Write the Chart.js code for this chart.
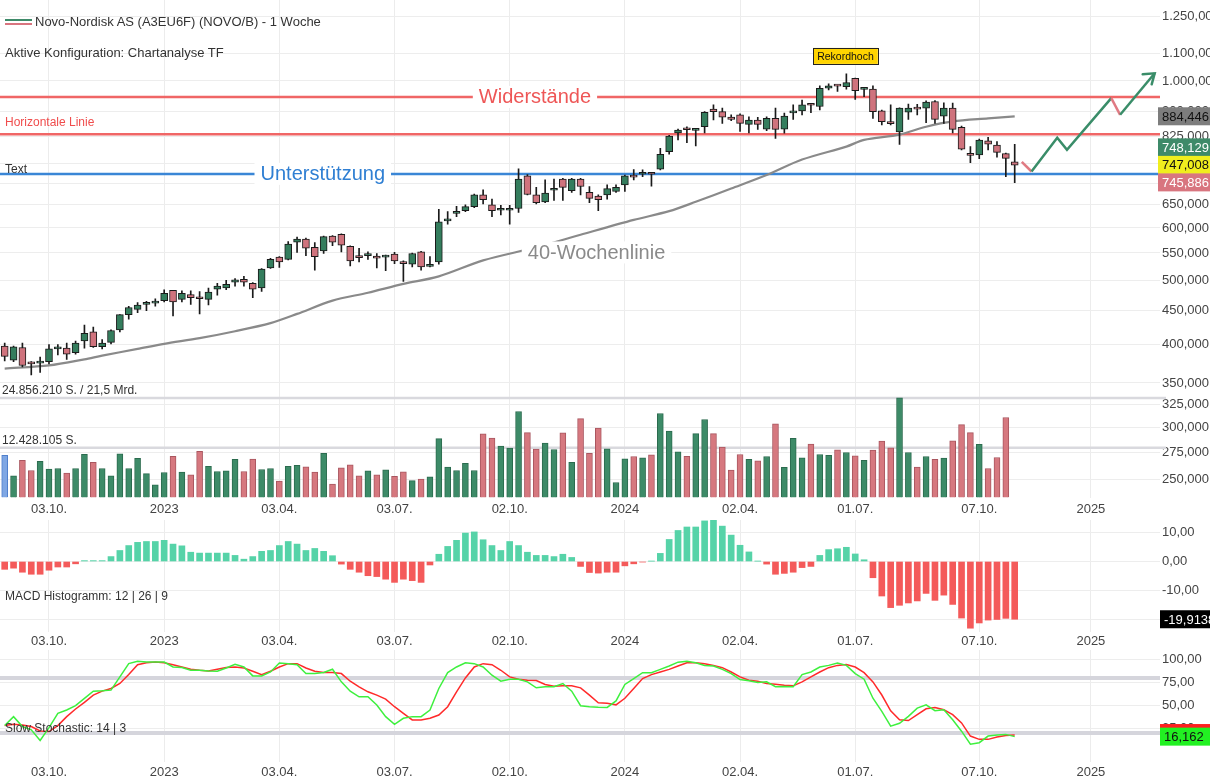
<!DOCTYPE html>
<html lang="de">
<head>
<meta charset="utf-8">
<title>Novo-Nordisk AS (NOVO/B) - 1 Woche</title>
<script src="https://cdn.jsdelivr.net/npm/chart.js@4.4.1/dist/chart.umd.min.js"></script>
<style>
  body { margin: 0; background: #fff; font-family: "Liberation Sans", Arial, sans-serif; }
  #wrap { position: relative; width: 1210px; height: 784px; overflow: hidden; }
  canvas { position: absolute; left: 0; }
  .txt { position: absolute; color: #333; white-space: nowrap; line-height: 16px; height: 16px; }
  .icon { position: absolute; left: 5px; width: 27px; height: 2px; }
</style>
</head>
<body>
<div id="wrap">
  <canvas id="priceChart" width="1210" height="520" style="top:0"></canvas>
  <canvas id="macdChart" width="1210" height="130" style="top:520px"></canvas>
  <canvas id="stochChart" width="1210" height="134" style="top:650px"></canvas>

  <div class="icon" style="top:19px;background:#3e8a69"></div>
  <div class="icon" style="top:23px;background:#d8757f"></div>
  <div class="txt" style="left:35px;top:14px;font-size:13px">Novo-Nordisk AS (A3EU6F) (NOVO/B) - 1 Woche</div>
  <div class="txt" style="left:5px;top:45px;font-size:13px">Aktive Konfiguration: Chartanalyse TF</div>
  <div class="txt" style="left:5px;top:588px;font-size:12px">MACD Histogramm: 12 | 26 | 9</div>
  <div class="txt" style="left:5px;top:720px;font-size:12px">Slow Stochastic: 14 | 3</div>
</div>
<script>
// week index 0 = 29.08.2022, one candle per week
const openP = [398,379,396,375,375,377,394,395,389,405,
  418,397,403,421,444,452,460,462,466,483,
  468,476,471,468,485,487,497,502,495,487,
  522,542,538,571,577,561,554,583,587,563,
  545,545,544,542,548,532,529,552,525,533,
  615,631,637,646,673,650,638,638,642,719,
  673,657,684,711,683,711,679,670,673,681,
  697,718,723,725,736,782,835,847,842,853,
  907,899,882,889,860,873,846,878,846,895,
  901,921,915,975,984,980,1009,971,972,901,
  864,838,897,909,910,931,885,910,851,774,
  773,812,800,777,755];
const highP = [402,398,402,377,383,400,400,402,405,428,
  425,407,421,444,457,463,465,469,484,483,
  482,482,481,487,495,500,503,507,496,521,
  540,543,572,581,579,570,583,584,588,564,
  559,552,549,546,551,535,550,553,543,640,
  635,647,650,675,685,663,649,649,737,722,
  691,709,711,713,713,713,693,673,697,697,
  721,735,734,726,791,828,846,853,845,899,
  920,910,889,892,883,881,883,910,894,920,
  936,925,983,990,986,1025,1010,978,983,904,
  920,911,923,922,933,934,927,926,855,796,
  817,822,810,778,802];
const lowP = [378,377,370,360,363,374,386,380,387,395,
  396,394,401,418,437,447,450,457,464,442,
  464,460,445,459,475,484,490,490,471,481,
  521,523,537,551,545,518,549,564,552,526,
  533,538,522,517,530,498,524,518,524,529,
  608,624,635,644,652,624,628,608,633,673,
  652,655,660,660,679,673,655,637,663,679,
  681,709,717,694,734,775,815,807,798,835,
  873,863,871,839,835,845,841,819,834,875,
  889,896,904,969,964,972,938,947,878,858,
  858,802,875,889,865,863,863,835,787,753,
  763,787,767,717,702];
const closeP = [384,397,372,374,377,394,396,387,402,416,
  397,402,420,444,455,459,462,463,478,464,
  478,471,469,480,490,493,501,497,485,520,
  538,533,567,577,559,543,582,571,565,535,
  541,547,540,544,535,530,549,524,528,613,
  619,634,646,673,662,637,640,641,711,674,
  655,677,686,691,711,693,665,662,688,691,
  719,716,725,723,775,826,843,844,844,897,
  899,882,875,863,873,860,878,845,885,897,
  920,919,975,983,982,994,967,973,899,868,
  862,910,910,907,929,875,910,845,789,772,
  814,803,780,764,746];

// weekly volume, million shares (current week not shown)
const volumeM = [10.57,5.41,9.30,6.76,9.05,7.10,7.27,6.09,7.27,10.82,
  8.79,7.27,5.41,10.91,7.27,9.81,6.00,3.21,6.26,10.31,
  6.34,5.66,11.58,7.78,6.51,6.68,9.55,6.51,9.64,7.02,
  7.27,4.14,7.78,8.03,7.69,6.34,11.08,3.38,7.44,8.20,
  5.41,6.68,5.66,6.93,5.33,6.43,4.23,4.65,5.16,14.71,
  7.61,6.76,8.54,6.76,15.90,14.88,12.85,12.34,21.48,16.23,
  12.09,13.61,12.00,16.15,8.79,19.70,11.08,17.33,12.18,3.78,
  9.66,10.25,9.91,10.67,21.00,16.63,11.42,10.33,15.96,19.49,
  15.96,12.60,6.89,10.75,9.58,9.16,10.25,18.40,7.56,14.78,
  9.91,13.36,10.75,10.58,11.93,11.26,10.42,9.32,11.84,14.11,
  12.43,24.90,11.26,7.64,10.25,9.58,9.86,14.15,18.20,16.20,
  13.30,7.26,10.00,20.00];
const volMax = 24.85621;

// 40-Wochenlinie
const maWeeks = [0,5,9,11,15,18,22,26,30,33,37,41,45,49,54,60,65,71,75,78,82,86,90,95,97,101,104,107,111,114];
const maValues = [368,372,380,385,394,401,409,419,431,445,466,479,494,507,536,561,586,617,636,657,688,721,761,796,815,830,853,869,878,884.446];

const macdHist = [-2.7,-2.3,-3.7,-4.4,-4.4,-3.0,-1.9,-1.9,-0.8,0.3,
  0.3,0.3,1.7,3.8,5.5,6.6,6.9,6.9,7.3,6.0,
  5.4,3.2,2.9,2.9,2.9,2.9,2.1,0.8,1.7,3.5,
  3.8,5.5,6.9,6.0,3.8,4.5,3.5,2.0,-0.9,-2.7,
  -3.7,-4.9,-5.2,-6.1,-7.2,-6.1,-6.6,-7.2,-1.2,2.5,
  5.2,7.3,9.8,10.2,7.5,5.5,3.8,6.9,5.5,3.2,
  2.1,2.1,1.7,2.5,1.4,-1.7,-3.8,-4.0,-3.7,-3.7,
  -1.5,-0.8,-0.2,0.1,2.8,7.6,10.7,11.9,11.9,14.0,
  14.3,12.2,9.1,5.6,3.3,0.1,-0.9,-4.4,-4.1,-3.7,
  -2.1,-1.7,2.1,4.1,4.4,4.9,2.6,0.6,-5.6,-11.9,
  -15.9,-15.1,-14.3,-13.6,-11.0,-13.4,-11.6,-14.8,-19.5,-23.0,
  -21.2,-20.2,-20.0,-19.6,-19.9138];

const stochK = [28.2,37.9,27.1,23.5,12.0,26.0,41.5,45.1,49.8,57.7,
  65.6,66.0,66.7,81.1,95.5,98.0,97.3,97.3,97.3,91.9,
  91.2,88.3,88.3,87.6,87.2,90.8,94.7,91.9,82.2,82.2,
  86.5,96.2,95.5,94.4,84.7,84.7,85.8,89.4,75.7,65.6,
  59.5,59.5,50.5,37.9,29.6,36.1,37.9,37.9,45.1,68.5,
  85.8,91.9,96.5,95.5,91.9,82.9,76.4,78.6,78.6,75.7,
  69.2,70.3,70.3,73.9,65.6,49.8,48.7,48.0,47.9,55.0,
  72.9,79.3,85.7,85.7,89.3,92.9,97.1,98.2,96.4,93.6,
  92.9,89.3,84.6,78.2,76.8,75.0,75.7,70.4,70.7,70.4,
  83.6,86.4,91.8,93.6,96.1,93.6,84.6,78.6,57.9,43.6,
  27.5,30.7,38.2,47.1,50.7,44.3,45.4,34.6,22.1,7.9,
  9.6,16.8,17.9,18.6,16.162];
const stochD = [28.2,29.6,28.9,27.1,22.4,21.7,28.2,37.9,46.2,53.4,
  61.3,65.6,68.5,73.9,83.6,94.4,96.5,97.3,96.5,94.4,
  91.9,89.4,88.3,87.6,89.4,91.2,91.9,90.8,87.2,83.6,
  87.2,91.9,95.5,95.5,90.8,87.2,85.8,85.8,84.7,76.4,
  70.3,64.9,61.3,57.0,48.7,41.5,34.3,34.3,36.1,39.7,
  48.7,64.9,80.0,91.9,95.5,94.4,88.3,81.1,78.6,77.5,
  77.1,72.8,71.0,71.4,71.4,69.2,61.3,53.0,52.5,50.7,
  57.9,68.6,79.3,83.6,86.4,89.3,92.9,96.4,96.4,95.4,
  93.6,91.1,86.4,81.1,77.5,76.4,73.9,73.2,72.1,71.4,
  75.7,81.1,86.4,91.1,93.6,94.6,91.8,85.7,75.7,61.4,
  44.3,34.6,33.6,40.0,46.4,47.9,45.4,40.0,31.1,16.8,
  13.2,13.2,15.7,17.5,17.9];

const xTickWeeks = [5, 18, 31, 44, 57, 70, 83, 96, 110, 122.6];
const xTickLabels = ['03.10.', '2023', '03.04.', '03.07.', '02.10.', '2024', '02.04.', '01.07.', '07.10.', '2025'];
const priceTicks = [250, 275, 300, 325, 350, 400, 450, 500, 550, 600, 650, 700, 750, 825, 900, 1000, 1100, 1250];
const macdTicks = [-20, -10, 0, 10];
const stochTicks = [25, 50, 75, 100];

const resistanceLevel = 946;
const horizLevel = 831;
const supportLevel = 724;
const recordWeek = 94.9, recordLabelLevel = 1091;

// drawn forecast zigzag
const forecastWeeks = [114.8, 115.9, 118.8, 119.9, 124.9, 125.9, 129.8];
const forecastValues = [755, 730, 821, 787, 942, 889, 1027];
const forecastUp = [false, true, true, true, false, true];

const quote = { ask: 748.129, last: 747.008, bid: 745.886 };

const xMin = -0.53, xMax = 130.4;
const FONT = '"Liberation Sans", Arial, sans-serif';
const upColor = '#347d5d', downColor = '#cf737d';
const greenLine = '#3a8d69', redLine = '#e07a83';

Chart.defaults.font.family = FONT;
Chart.defaults.color = '#444';

function de(v, d) {
  const parts = Math.abs(v).toFixed(d).split('.');
  const s = parts[0].replace(/\B(?=(\d{3})+(?!\d))/g, '.') + (d ? ',' + parts[1] : '');
  return (v < 0 ? '-' : '') + s;
}

function xScale(h, pad) {
  return {
    type: 'linear', min: xMin, max: xMax, bounds: 'data', offset: false,
    grid: { color: '#ececec', offset: false, drawTicks: false },
    border: { display: false },
    ticks: {
      padding: pad, maxRotation: 0, autoSkip: false, font: { size: 13 }, color: '#444',
      callback: (v, i) => xTickLabels[i],
    },
    afterBuildTicks: (s) => { s.ticks = xTickWeeks.map((v) => ({ value: v })); },
    afterFit: (s) => { s.height = h; s.paddingLeft = 0; s.paddingRight = 0; },
  };
}

function yScale(type, min, max, tickValues, fmt) {
  return {
    type: type, position: 'right', min: min, max: max, bounds: 'data',
    grid: { color: '#ededed', drawTicks: false },
    border: { display: false },
    ticks: { padding: 2, font: { size: 13 }, color: '#444', autoSkip: false, callback: fmt },
    afterBuildTicks: (s) => { s.ticks = tickValues.map((v) => ({ value: v })); },
    afterFit: (s) => { s.width = 50; s.paddingTop = 0; s.paddingBottom = 0; },
  };
}

function badge(ctx, x, yc, text, bg, fg) {
  ctx.fillStyle = bg;
  ctx.fillRect(x, yc - 9, 1210 - x, 18);
  ctx.fillStyle = fg;
  ctx.font = '13px ' + FONT;
  ctx.textAlign = 'left';
  ctx.textBaseline = 'middle';
  ctx.fillText(text, x + 4, yc + 1);
}

function caption(ctx, text, px, py, color) {
  ctx.font = '20px ' + FONT;
  const w = ctx.measureText(text).width;
  ctx.fillStyle = '#fff';
  ctx.fillRect(px - w / 2 - 6, py - 11, w + 12, 22);
  ctx.fillStyle = color;
  ctx.textAlign = 'center';
  ctx.textBaseline = 'middle';
  ctx.fillText(text, px, py + 1);
}

const weeks = closeP.map((c, i) => i);
const bodyColors = closeP.map((c, i) => (c >= openP[i] ? upColor : downColor));

const priceOverlay = {
  id: 'priceOverlay',
  beforeDatasetsDraw(chart) {
    const { ctx, chartArea: a, scales: { y, yVol } } = chart;
    ctx.save();
    // volume reference lines
    ctx.lineWidth = 2.5;
    ctx.strokeStyle = '#d9d9de';
    [volMax, volMax / 2].forEach((v) => {
      const py = yVol.getPixelForValue(v);
      ctx.beginPath(); ctx.moveTo(a.left, py); ctx.lineTo(a.right + 6, py); ctx.stroke();
    });
    // horizontal lines
    [[resistanceLevel, '#f06666'], [horizLevel, '#f06666'], [supportLevel, '#3a86d6']].forEach(([v, c]) => {
      const py = y.getPixelForValue(v);
      ctx.strokeStyle = c;
      ctx.beginPath(); ctx.moveTo(a.left, py); ctx.lineTo(a.right, py); ctx.stroke();
    });
    ctx.restore();
  },
  afterDatasetsDraw(chart) {
    const { ctx, chartArea: a, scales: { x, y, yVol } } = chart;
    ctx.save();
    caption(ctx, 'Widerstände', x.getPixelForValue(59.85), y.getPixelForValue(resistanceLevel), '#ee5656');
    caption(ctx, 'Unterstützung', x.getPixelForValue(35.9), y.getPixelForValue(supportLevel), '#2f7fd3');
    caption(ctx, '40-Wochenlinie', x.getPixelForValue(66.8), y.getPixelForValue(551), '#8a8a8a');

    ctx.textAlign = 'left';
    ctx.textBaseline = 'middle';
    ctx.font = '12px ' + FONT;
    ctx.fillStyle = '#f04d4d';
    ctx.fillText('Horizontale Linie', a.left + 5, y.getPixelForValue(horizLevel) - 12);
    ctx.fillStyle = '#333';
    ctx.fillText('Text', a.left + 5, y.getPixelForValue(supportLevel) - 4);
    ctx.fillText(de(volMax * 1e6, 0) + ' S. / 21,5 Mrd.', a.left + 2, yVol.getPixelForValue(volMax) - 7);
    ctx.fillText(de(volMax * 1e6 / 2, 0) + ' S.', a.left + 2, yVol.getPixelForValue(volMax / 2) - 7);

    // Rekordhoch label
    const rx = x.getPixelForValue(recordWeek), ry = y.getPixelForValue(recordLabelLevel);
    ctx.font = '10.5px ' + FONT;
    const rw = ctx.measureText('Rekordhoch').width + 8;
    ctx.fillStyle = '#ffd400';
    ctx.fillRect(rx - rw / 2, ry - 8, rw, 16);
    ctx.strokeStyle = '#222';
    ctx.lineWidth = 1;
    ctx.strokeRect(Math.round(rx - rw / 2) + 0.5, Math.round(ry - 8) + 0.5, Math.round(rw), 16);
    ctx.fillStyle = '#111';
    ctx.textAlign = 'center';
    ctx.fillText('Rekordhoch', rx, ry + 1);

    // arrow head of the forecast
    const n = forecastWeeks.length - 1;
    const tx = x.getPixelForValue(forecastWeeks[n]), ty = y.getPixelForValue(forecastValues[n]);
    ctx.strokeStyle = greenLine;
    ctx.lineWidth = 2.5;
    ctx.lineCap = 'round';
    ctx.beginPath();
    ctx.moveTo(tx - 12, ty + 1); ctx.lineTo(tx, ty); ctx.lineTo(tx - 3, ty + 11);
    ctx.stroke();

    // price badges on the axis
    const yl = y.getPixelForValue(quote.last);
    badge(ctx, 1158, y.getPixelForValue(maValues[maValues.length - 1]), de(maValues[maValues.length - 1], 3), '#7d7d7d', '#111');
    badge(ctx, 1158, yl - 17.5, de(quote.ask, 3), '#3e8a69', '#fff');
    badge(ctx, 1158, yl, de(quote.last, 3), '#f0ee1e', '#111');
    badge(ctx, 1158, yl + 17.5, de(quote.bid, 3), '#d8757f', '#fff');
    ctx.restore();
  },
};

new Chart(document.getElementById('priceChart'), {
  type: 'bar',
  data: {
    datasets: [
      {
        type: 'bar', label: 'Volumen', yAxisID: 'yVol', order: 5, grouped: false,
        data: volumeM.map((v, i) => ({ x: i, y: v })),
        backgroundColor: volumeM.map((v, i) => (i === 0 ? '#7fa7e4' : closeP[i] >= openP[i] ? '#3d8b68' : '#d6787f')),
        borderColor: volumeM.map((v, i) => (i === 0 ? '#4f7fcc' : closeP[i] >= openP[i] ? '#2b6b4e' : '#a9565f')),
        borderWidth: 1, barThickness: 6,
      },
      {
        type: 'line', label: '40-Wochenlinie', yAxisID: 'y', order: 4,
        data: maWeeks.map((w, k) => ({ x: w, y: maValues[k] })),
        borderColor: '#8a8a8a', borderWidth: 2.2, pointRadius: 0, tension: 0.3,
      },
      {
        type: 'bar', label: 'Docht', yAxisID: 'y', order: 3, grouped: false,
        data: weeks.map((i) => ({ x: i, y: [lowP[i], highP[i]] })),
        backgroundColor: '#1a1a1a', borderWidth: 0, barThickness: 1,
      },
      {
        type: 'bar', label: 'Kerze', yAxisID: 'y', order: 2, grouped: false,
        data: weeks.map((i) => ({ x: i, y: [openP[i], closeP[i]] })),
        backgroundColor: bodyColors, borderColor: '#1a1a1a', borderWidth: 1,
        borderSkipped: false, barThickness: 7, minBarLength: 2,
      },
      {
        type: 'line', label: 'Prognose', yAxisID: 'y', order: 1,
        data: forecastWeeks.map((w, k) => ({ x: w, y: forecastValues[k] })),
        borderColor: greenLine, borderWidth: 2.5, pointRadius: 0, tension: 0,
        segment: { borderColor: (c) => (forecastUp[c.p0DataIndex] ? greenLine : redLine) },
      },
    ],
  },
  options: {
    responsive: false, animation: false, events: [],
    layout: { padding: 0 },
    plugins: { legend: { display: false }, tooltip: { enabled: false } },
    scales: {
      x: xScale(22.4, 4),
      y: yScale('logarithmic', 235, 1325, priceTicks, (v) => de(v, 3)),
      yVol: { type: 'linear', display: false, min: 0, max: 124.2, bounds: 'data' },
    },
  },
  plugins: [priceOverlay],
});

new Chart(document.getElementById('macdChart'), {
  type: 'bar',
  data: {
    datasets: [{
      label: 'MACD Histogramm', grouped: false,
      data: macdHist.map((v, i) => ({ x: i, y: v })),
      backgroundColor: macdHist.map((v) => (v >= 0 ? '#56d3a8' : '#f45a5a')),
      borderWidth: 0, barThickness: 6,
    }],
  },
  options: {
    responsive: false, animation: false, events: [],
    layout: { padding: 0 },
    plugins: { legend: { display: false }, tooltip: { enabled: false } },
    scales: {
      x: xScale(18, 2),
      y: yScale('linear', -24.31, 14.31, macdTicks, (v) => de(v, 2)),
    },
  },
  plugins: [{
    id: 'macdBadge',
    afterDatasetsDraw(chart) {
      const { ctx, scales: { y } } = chart;
      const v = macdHist[macdHist.length - 1];
      ctx.save();
      badge(ctx, 1160, y.getPixelForValue(v), de(v, 4), '#000', '#fff');
      ctx.restore();
    },
  }],
});

new Chart(document.getElementById('stochChart'), {
  type: 'line',
  data: {
    datasets: [
      {
        label: '%K', data: stochK.map((v, i) => ({ x: i, y: v })),
        borderColor: '#3ef03e', borderWidth: 1.5, pointRadius: 0, tension: 0,
      },
      {
        label: '%D', data: stochD.map((v, i) => ({ x: i, y: v })),
        borderColor: '#ff2a2a', borderWidth: 1.5, pointRadius: 0, tension: 0,
      },
    ],
  },
  options: {
    responsive: false, animation: false, events: [],
    layout: { padding: 0 },
    plugins: { legend: { display: false }, tooltip: { enabled: false } },
    scales: {
      x: xScale(22, 3),
      y: yScale('linear', -11.41, 110.33, stochTicks, (v) => de(v, 2)),
    },
  },
  plugins: [{
    id: 'stochBands',
    beforeDatasetsDraw(chart) {
      const { ctx, chartArea: a, scales: { y } } = chart;
      ctx.save();
      ctx.strokeStyle = '#d5d5dc';
      ctx.lineWidth = 4;
      [80, 20].forEach((v) => {
        const py = y.getPixelForValue(v);
        ctx.beginPath(); ctx.moveTo(a.left, py); ctx.lineTo(a.right, py); ctx.stroke();
      });
      ctx.restore();
    },
    afterDatasetsDraw(chart) {
      const { ctx, scales: { y } } = chart;
      const d = stochD[stochD.length - 1], k = stochK[stochK.length - 1];
      ctx.save();
      badge(ctx, 1160, y.getPixelForValue(d) - 2, de(d, 3), '#ff1f1f', '#fff');
      badge(ctx, 1160, y.getPixelForValue(k), de(k, 3), '#22f022', '#111');
      ctx.restore();
    },
  }],
});
</script>
</body>
</html>
